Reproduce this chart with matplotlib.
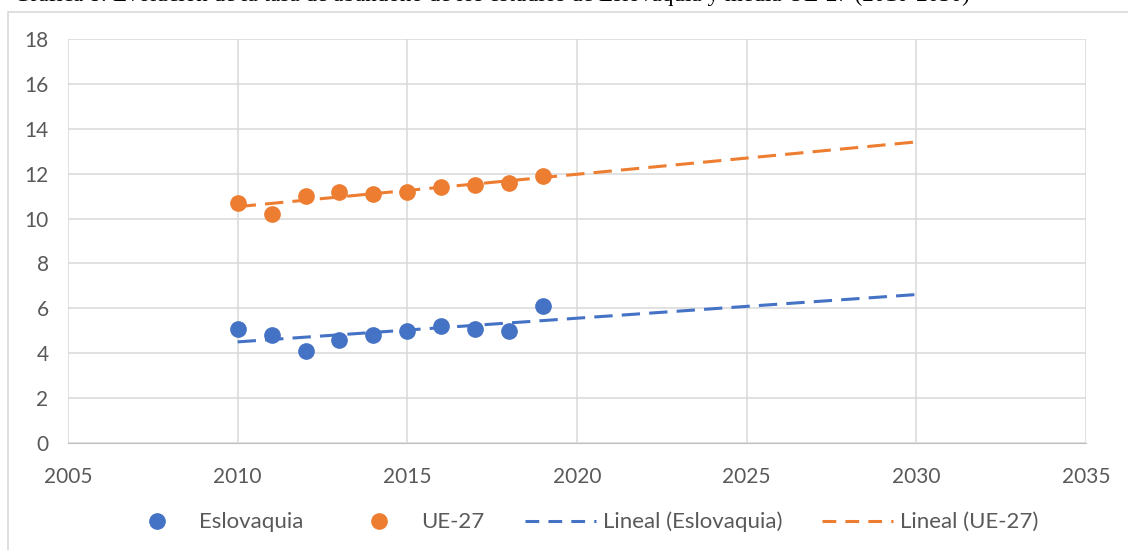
import numpy as np
import matplotlib.pyplot as plt
from matplotlib.patches import Rectangle
from matplotlib.lines import Line2D

# Datos
years = [2010, 2011, 2012, 2013, 2014, 2015, 2016, 2017, 2018, 2019]
eslovaquia = [5.1, 4.8, 4.1, 4.6, 4.8, 5.0, 5.2, 5.1, 5.0, 6.1]
ue27 = [10.7, 10.2, 11.0, 11.2, 11.1, 11.2, 11.4, 11.5, 11.6, 11.9]
trend_end = 2030

blue = '#4472C4'
orange = '#ED7D31'
grey_txt = '#595959'

plt.rcParams['font.family'] = ['Lato', 'DejaVu Sans']

fig = plt.figure(figsize=(11.28, 5.5), dpi=100)
W, H = 1128, 550
ax = fig.add_axes([68 / W, 1 - 443 / H, (1086 - 68) / W, (443 - 39) / H])

# marco exterior del grafico
fig.patches.append(Rectangle((8 / W, -0.01), 1.0, 1 - 12 / H + 0.01, transform=fig.transFigure,
                             fill=False, edgecolor='#D9D9D9', linewidth=1.2))

# titulo (cortado en el borde superior, como en el original)
fig.text(14 / W, 1 - 1 / H,
         'Gráfica 8: Evolución de la tasa de abandono de los estudios de Eslovaquia y media UE-27 (2010-2030)',
         family='Liberation Serif', fontsize=16.7, va='baseline', ha='left', color='black')

x = np.array(years)
trend_x = np.array([years[0], trend_end])
for vals, col in [(eslovaquia, blue), (ue27, orange)]:
    m, b = np.polyfit(x, vals, 1)
    ax.plot(trend_x, m * trend_x + b, color=col, lw=2.2, dashes=(6, 3), zorder=2)
    ax.plot(x, vals, 'o', color=col, ms=11, zorder=3)

ax.set_xlim(2005, 2035)
ax.set_ylim(0, 18)
ax.set_xticks(range(2005, 2036, 5))
ax.set_yticks(range(0, 19, 2))
ax.grid(True, color='#D9D9D9', lw=1.1)
ax.set_axisbelow(True)
for s in ['top', 'right', 'left']:
    ax.spines[s].set_visible(False)
ax.spines['bottom'].set_color('#BFBFBF')
ax.tick_params(length=0, labelsize=15, labelcolor=grey_txt)
ax.tick_params(axis='x', pad=17)
ax.tick_params(axis='y', pad=14)

handles = [
    Line2D([], [], ls='none', marker='o', color=blue, ms=11),
    Line2D([], [], ls='none', marker='o', color=orange, ms=11),
    Line2D([], [], color=blue, lw=2.2, dashes=(4.5, 3)),
    Line2D([], [], color=orange, lw=2.2, dashes=(4.5, 3)),
]
labels = ['Eslovaquia', 'UE-27', 'Lineal (Eslovaquia)', 'Lineal (UE-27)']
fig.legend(handles, labels, loc='center', bbox_to_anchor=(580 / W, 1 - 522 / H), ncol=4,
           frameon=False, fontsize=16, labelcolor=grey_txt, handlelength=3.2,
           columnspacing=1.8, handletextpad=0.3)

fig.savefig('out.png', dpi=100)
